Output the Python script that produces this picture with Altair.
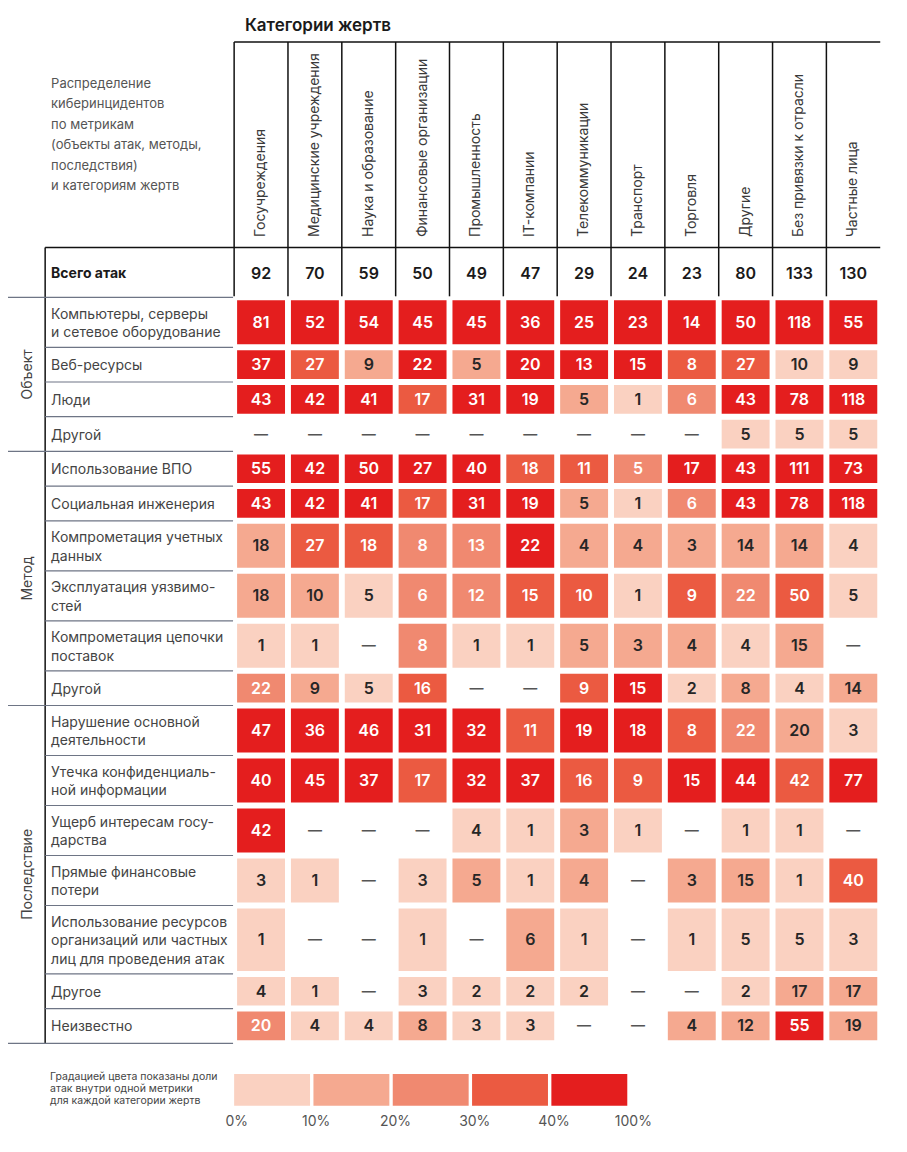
import altair as alt
import pandas as pd

# ---------------- data ----------------
categories = ["Госучреждения", "Медицинские учреждения", "Наука и образование",
              "Финансовые организации", "Промышленность", "IT-компании",
              "Телекоммуникации", "Транспорт", "Торговля", "Другие",
              "Без привязки к отрасли", "Частные лица"]
totals = [92, 70, 59, 50, 49, 47, 29, 24, 23, 80, 133, 130]

groups = ["Объект", "Метод", "Последствие"]
row_groups = [0, 0, 0, 0, 1, 1, 1, 1, 1, 1, 2, 2, 2, 2, 2, 2, 2]
row_labels = [
    "Компьютеры, серверы\nи сетевое оборудование",
    "Веб-ресурсы",
    "Люди",
    "Другой",
    "Использование ВПО",
    "Социальная инженерия",
    "Компрометация учетных\nданных",
    "Эксплуатация уязвимо-\nстей",
    "Компрометация цепочки\nпоставок",
    "Другой",
    "Нарушение основной\nдеятельности",
    "Утечка конфиденциаль-\nной информации",
    "Ущерб интересам госу-\nдарства",
    "Прямые финансовые\nпотери",
    "Использование ресурсов\nорганизаций или частных\nлиц для проведения атак",
    "Другое",
    "Неизвестно",
]
N = None
values = [
    [81, 52, 54, 45, 45, 36, 25, 23, 14, 50, 118, 55],
    [37, 27, 9, 22, 5, 20, 13, 15, 8, 27, 10, 9],
    [43, 42, 41, 17, 31, 19, 5, 1, 6, 43, 78, 118],
    [N, N, N, N, N, N, N, N, N, 5, 5, 5],
    [55, 42, 50, 27, 40, 18, 11, 5, 17, 43, 111, 73],
    [43, 42, 41, 17, 31, 19, 5, 1, 6, 43, 78, 118],
    [18, 27, 18, 8, 13, 22, 4, 4, 3, 14, 14, 4],
    [18, 10, 5, 6, 12, 15, 10, 1, 9, 22, 50, 5],
    [1, 1, N, 8, 1, 1, 5, 3, 4, 4, 15, N],
    [22, 9, 5, 16, N, N, 9, 15, 2, 8, 4, 14],
    [47, 36, 46, 31, 32, 11, 19, 18, 8, 22, 20, 3],
    [40, 45, 37, 17, 32, 37, 16, 9, 15, 44, 42, 77],
    [42, N, N, N, 4, 1, 3, 1, N, 1, 1, N],
    [3, 1, N, 3, 5, 1, 4, N, 3, 15, 1, 40],
    [1, N, N, 1, N, 6, 1, N, 1, 5, 5, 3],
    [4, 1, N, 3, 2, 2, 2, N, N, 2, 17, 17],
    [20, 4, 4, 8, 3, 3, N, N, 4, 12, 55, 19],
]
# colour grade of each cell (1 = 0–10 %, ... 5 = 40–100 %)
levels = [
    [5, 5, 5, 5, 5, 5, 5, 5, 5, 5, 5, 5],
    [5, 4, 2, 5, 2, 5, 5, 5, 4, 4, 1, 1],
    [5, 5, 5, 4, 5, 5, 2, 1, 3, 5, 5, 5],
    [0, 0, 0, 0, 0, 0, 0, 0, 0, 1, 1, 1],
    [5, 5, 5, 5, 5, 4, 4, 3, 5, 5, 5, 5],
    [5, 5, 5, 4, 5, 5, 2, 1, 3, 5, 5, 5],
    [2, 4, 4, 3, 3, 5, 2, 2, 2, 2, 2, 1],
    [2, 2, 1, 3, 3, 4, 4, 1, 4, 3, 4, 1],
    [1, 1, 0, 3, 1, 1, 2, 2, 2, 1, 2, 0],
    [3, 2, 1, 4, 0, 0, 4, 5, 1, 2, 1, 2],
    [5, 5, 5, 5, 5, 4, 5, 5, 4, 3, 2, 1],
    [5, 5, 5, 4, 5, 5, 4, 4, 5, 5, 4, 5],
    [5, 0, 0, 0, 1, 1, 2, 1, 0, 1, 1, 0],
    [1, 1, 0, 1, 2, 1, 2, 0, 2, 2, 1, 4],
    [1, 0, 0, 1, 0, 2, 1, 0, 1, 1, 1, 1],
    [1, 1, 0, 1, 1, 1, 1, 0, 0, 1, 2, 2],
    [3, 1, 1, 2, 1, 1, 0, 0, 2, 2, 5, 2],
]
grade_colors = ["#FAD1C1", "#F5A990", "#F08970", "#EB5A41", "#E41E1E"]
grade_ticks = ["0%", "10%", "20%", "30%", "40%", "100%"]

title_text = "Категории жертв"
description = ("Распределение\nкиберинцидентов\nпо метрикам\n(объекты атак, методы,\n"
               "последствия)\nи категориям жертв")
total_label = "Всего атак"
legend_note = "Градацией цвета показаны доли\nатак внутри одной метрики\nдля каждой категории жертв"

# ---------------- layout ----------------
FONT = "Inter"
X_MIN, X_MAX = -4.2, 12.2
W, H = 883, 1135
LEFT_U = -3.51          # vertical rule left of the row labels
LABEL_U = -3.40         # row label start
GROUP_U = -3.826        # rotated group labels
HEAD_TOP = 34
TOTAL_TOP = 239.5
TOTAL_Y = 266
BODY_TOP = 289.3
ROW_H = {1: 34.7, 2: 50.0, 3: 68.4}
ROW_LH = 18.5
LEG_TOP, LEG_BOT, LEG_LAB_Y = 1066, 1097.7, 1113.7
LEG_PITCH, LEG_W = 1.473, 1.41

xs = alt.Scale(domain=[X_MIN, X_MAX], nice=False, zero=False)
ys = alt.Scale(domain=[0, H], reverse=True, nice=False, zero=False)


def X(f):
    return alt.X(f"{f}:Q", scale=xs, axis=None)


def Y(f):
    return alt.Y(f"{f}:Q", scale=ys, axis=None)


# rows geometry
tops, bottoms, nlines = [], [], []
y = BODY_TOP
for lab in row_labels:
    n = lab.count("\n") + 1
    h = ROW_H[n]
    tops.append(y)
    bottoms.append(y + h)
    nlines.append(n)
    y += h
BODY_BOT = y

# cells
cell_rows = []
for r, (vals, levs) in enumerate(zip(values, levels)):
    for c, (v, lv) in enumerate(zip(vals, levs)):
        cell_rows.append({
            "cat": categories[c], "metric": row_labels[r].replace("\n", " "),
            "x": c + 0.055, "x2": c + 0.945, "xc": c + 0.5,
            "y": tops[r] + 3, "y2": bottoms[r] - 3,
            "yc": (tops[r] + bottoms[r]) / 2 + 0.5,
            "value": v, "label": "—" if v is None else str(v),
            "level": lv,
            "tc": "#ffffff" if lv >= 3 else "#262626",
        })
cells = pd.DataFrame(cell_rows)
filled = cells[cells["value"].notna()]
empty = cells[cells["value"].isna()]

# rules
rule_rows = [{"x": 0, "x2": 12, "y": HEAD_TOP, "y2": HEAD_TOP, "c": "#111111", "w": 1.5},
             {"x": LEFT_U, "x2": 12, "y": TOTAL_TOP, "y2": TOTAL_TOP, "c": "#111111", "w": 1.5},
             {"x": LEFT_U, "x2": LEFT_U, "y": TOTAL_TOP, "y2": BODY_BOT, "c": "#111111", "w": 1.5}]
for i in range(12):
    rule_rows.append({"x": i, "x2": i, "y": HEAD_TOP, "y2": BODY_TOP - 1, "c": "#111111", "w": 1.5})
bounds = [BODY_TOP] + bottoms
for k, b in enumerate(bounds):
    is_group = k == 0 or k == len(bottoms) or row_groups[k] != row_groups[k - 1]
    rule_rows.append({"x": X_MIN if is_group else LEFT_U, "x2": -0.02, "y": b, "y2": b,
                      "c": "#6E7585", "w": 1.2})
rules = pd.DataFrame(rule_rows)

heads = pd.DataFrame({"label": categories, "x": [i + 0.5 for i in range(12)], "y": 229})
tots = pd.DataFrame({"label": [str(t) for t in totals], "x": [i + 0.5 for i in range(12)],
                     "y": TOTAL_Y})
# multi-line labels: y is the centre of the first line
rowlab = pd.DataFrame({"label": row_labels, "x": LABEL_U,
                       "y": [(t + b) / 2 + 1.5 - (n - 1) * ROW_LH / 2
                             for t, b, n in zip(tops, bottoms, nlines)]})
grp_y = []
for g in range(3):
    idx = [i for i, rg in enumerate(row_groups) if rg == g]
    grp_y.append((tops[idx[0]] + bottoms[idx[-1]]) / 2)
grp = pd.DataFrame({"label": groups, "x": GROUP_U, "y": grp_y})

leg_rect = pd.DataFrame({"grade": [1, 2, 3, 4, 5],
                         "x": [i * LEG_PITCH for i in range(5)],
                         "x2": [i * LEG_PITCH + LEG_W for i in range(5)],
                         "y": LEG_TOP, "y2": LEG_BOT})
leg_lab = pd.DataFrame({"label": grade_ticks, "x": [i * LEG_PITCH + 0.05 for i in range(6)],
                        "y": LEG_LAB_Y})


def misc(t, x, yy):
    return pd.DataFrame({"label": [t], "x": [x], "y": [yy]})


color_scale = alt.Scale(domain=[1, 2, 3, 4, 5], range=grade_colors)

layers = [
    alt.Chart(rules).mark_rule().encode(
        x=X("x"), x2="x2", y=Y("y"), y2="y2",
        color=alt.Color("c:N", scale=None),
        strokeWidth=alt.StrokeWidth("w:Q", scale=None)),
    alt.Chart(filled).mark_rect().encode(
        x=X("x"), x2="x2", y=Y("y"), y2="y2",
        color=alt.Color("level:O", scale=color_scale, legend=None),
        tooltip=["cat:N", "metric:N", "value:Q"]),
    alt.Chart(filled).mark_text(font=FONT, fontSize=16, fontWeight=600, baseline="middle").encode(
        x=X("xc"), y=Y("yc"), text="label:N", color=alt.Color("tc:N", scale=None)),
    alt.Chart(empty).mark_text(font=FONT, fontSize=14, fontWeight=600, baseline="middle",
                               color="#555555").encode(
        x=X("xc"), y=Y("yc"), text="label:N"),
    alt.Chart(heads).mark_text(font=FONT, fontSize=14, angle=270, align="left", baseline="middle",
                               color="#3a3a3a").encode(x=X("x"), y=Y("y"), text="label:N"),
    alt.Chart(tots).mark_text(font=FONT, fontSize=16, fontWeight=600, baseline="middle",
                              color="#1a1a1a").encode(x=X("x"), y=Y("y"), text="label:N"),
    alt.Chart(rowlab).mark_text(font=FONT, fontSize=14, align="left", baseline="middle",
                                lineBreak="\n", lineHeight=ROW_LH, color="#444444").encode(
        x=X("x"), y=Y("y"), text="label:N"),
    alt.Chart(grp).mark_text(font=FONT, fontSize=14, angle=270, align="center", baseline="middle",
                             color="#444444").encode(x=X("x"), y=Y("y"), text="label:N"),
    alt.Chart(misc(title_text, 0.2, 18)).mark_text(
        font=FONT, fontSize=17, fontWeight=600, align="left", baseline="middle",
        color="#1a1a1a").encode(x=X("x"), y=Y("y"), text="label:N"),
    alt.Chart(misc(description, LABEL_U, 76)).mark_text(
        font=FONT, fontSize=13, align="left", baseline="middle", lineBreak="\n",
        lineHeight=20.4, color="#555555").encode(x=X("x"), y=Y("y"), text="label:N"),
    alt.Chart(misc(total_label, LABEL_U, TOTAL_Y)).mark_text(
        font=FONT, fontSize=14, fontWeight=700, align="left", baseline="middle",
        color="#1a1a1a").encode(x=X("x"), y=Y("y"), text="label:N"),
    alt.Chart(leg_rect).mark_rect().encode(
        x=X("x"), x2="x2", y=Y("y"), y2="y2",
        color=alt.Color("grade:O", scale=color_scale, legend=None)),
    alt.Chart(leg_lab).mark_text(font=FONT, fontSize=14, baseline="middle",
                                 color="#555555").encode(x=X("x"), y=Y("y"), text="label:N"),
    alt.Chart(misc(legend_note, -3.418, 1068.7)).mark_text(
        font=FONT, fontSize=10.5, align="left", baseline="middle", lineBreak="\n",
        lineHeight=12, color="#444444").encode(x=X("x"), y=Y("y"), text="label:N"),
]

chart = alt.layer(*layers).properties(
    width=W, height=H, padding=0, autosize=alt.AutoSizeParams(type="none")
).configure_view(strokeWidth=0)

chart.save("out.html", embed_options={"renderer": "svg", "actions": False})
